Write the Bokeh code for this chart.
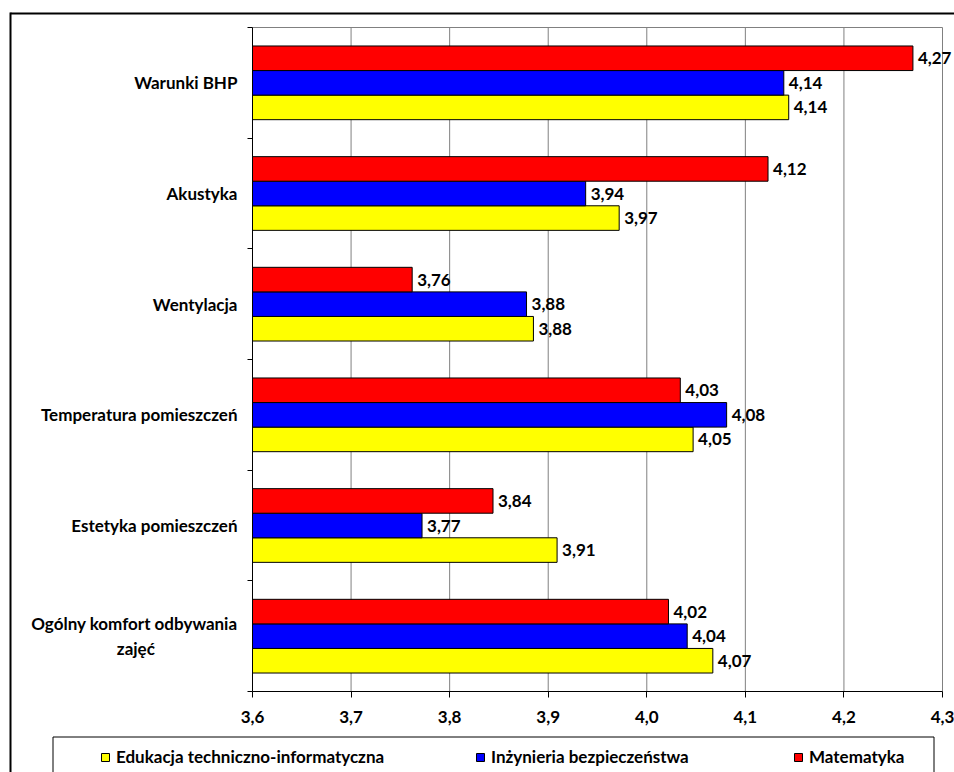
from bokeh.plotting import figure
from bokeh.models import (Range1d, FixedTicker, CustomJSTickFormatter, ColumnDataSource,
                          LabelSet, Legend, LegendItem)
from bokeh.core.properties import value
from bokeh.embed import file_html
from bokeh.resources import INLINE

# ---- data ----
categories = ["Warunki BHP", "Akustyka", "Wentylacja", "Temperatura pomieszczeń",
              "Estetyka pomieszczeń", "Ogólny komfort odbywania\nzajęć" + "\u00a0" * 20]
series_names = ["Edukacja techniczno-informatyczna", "Inżynieria bezpieczeństwa", "Matematyka"]
edukacja = [4.144, 3.972, 3.885, 4.047, 3.909, 4.067]
inzynieria = [4.139, 3.938, 3.878, 4.081, 3.772, 4.041]
matematyka = [4.270, 4.123, 3.762, 4.034, 3.844, 4.022]
xticks = [3.6, 3.7, 3.8, 3.9, 4.0, 4.1, 4.2, 4.3]

# ---- layout (pixels) ----
W, H = 954, 772
PLOT_L, PLOT_R, PLOT_T, PLOT_B = 252, 942, 27, 691
colors = ["#FFFF00", "#0000FF", "#FF0000"]
FONT = "Lato"
BAR_H = 0.222
offsets = [-BAR_H, 0.0, BAR_H]

n = len(categories)
centers = [n - k - 0.5 for k in range(n)]

# the frame spans the whole canvas; the plot area is drawn inside it
px_x = (PLOT_R - PLOT_L) / (xticks[-1] - xticks[0])
px_y = (PLOT_B - PLOT_T) / n
x0 = xticks[0] - PLOT_L / px_x
x1 = xticks[0] + (W - PLOT_L) / px_x
y0 = -(H - PLOT_B) / px_y
y1 = n + PLOT_T / px_y


def to_x(px):
    return x0 + px / px_x


def to_y(py):
    return y1 - py / px_y


p = figure(width=W, height=H, x_range=Range1d(x0, x1), y_range=Range1d(y0, y1),
           output_backend="svg", toolbar_location=None,
           min_border_left=0, min_border_right=0, min_border_top=0, min_border_bottom=0)
p.background_fill_color = "white"
p.border_fill_color = "white"
p.outline_line_color = None
p.xgrid.visible = False
p.ygrid.visible = False

# outer chart frame (left and top edges; the others fall outside the picture)
p.segment(x0=[to_x(10), to_x(10)], x1=[to_x(10), to_x(1000)],
          y0=[to_y(12), to_y(13)], y1=[to_y(900), to_y(13)],
          line_color="black", line_width=2)
# legend frame
p.segment(x0=[to_x(52.5), to_x(52.5), to_x(933.5)], x1=[to_x(933.5), to_x(52.5), to_x(933.5)],
          y0=[to_y(736.5), to_y(736.5), to_y(736.5)], y1=[to_y(736.5), to_y(900), to_y(900)],
          line_color="black", line_width=1)

# grid lines and top edge of the plot area
p.segment(x0=xticks[1:], x1=xticks[1:], y0=[0] * (len(xticks) - 1), y1=[n] * (len(xticks) - 1),
          line_color="#808080", line_width=1)
p.segment(x0=[xticks[0]], x1=[xticks[-1]], y0=[n], y1=[n], line_color="#808080", line_width=1)

renderers = []
for vals, col, off, name in zip([edukacja, inzynieria, matematyka], colors, offsets, series_names):
    src = ColumnDataSource(dict(
        y=[c + off for c in centers],
        right=vals,
        left=[xticks[0]] * n,
        lab=[f"{v:.2f}".replace(".", ",") for v in vals],
    ))
    r = p.hbar(y="y", left="left", right="right", height=BAR_H, source=src,
               fill_color=col, line_color="black", line_width=1)
    renderers.append(r)
    ls = LabelSet(x="right", y="y", text="lab", source=src, x_offset=5,
                  text_baseline="middle", text_align="left",
                  text_font=value(FONT), text_font_style="bold", text_font_size="17px",
                  text_color="black")
    p.add_layout(ls)

# x axis (placed at y = 0)
p.xaxis.fixed_location = 0
p.xaxis.ticker = FixedTicker(ticks=xticks)
p.xaxis.bounds = (xticks[0], xticks[-1])
p.xaxis.formatter = CustomJSTickFormatter(code="return tick.toFixed(1).replace('.', ',');")
p.xaxis.major_tick_out = 6
p.xaxis.major_tick_in = 0
p.xaxis.minor_tick_out = 0
p.xaxis.minor_tick_in = 0
p.xaxis.axis_line_color = "black"
p.xaxis.major_tick_line_color = "black"
p.xaxis.major_label_standoff = 13
p.xaxis.major_label_text_font = FONT
p.xaxis.major_label_text_font_style = "bold"
p.xaxis.major_label_text_font_size = "17px"
p.xaxis.major_label_text_color = "black"

# y axis (placed at x = 3.6): labels at category centres, tick marks at boundaries
p.yaxis.fixed_location = xticks[0]
p.yaxis.bounds = (0, n)
p.yaxis.ticker = FixedTicker(ticks=centers, minor_ticks=list(range(n + 1)))
p.yaxis.major_label_overrides = {c: lab for c, lab in zip(centers, categories)}
p.yaxis.major_tick_out = 0
p.yaxis.major_tick_in = 0
p.yaxis.minor_tick_out = 5
p.yaxis.minor_tick_in = 0
p.yaxis.minor_tick_line_color = "black"
p.yaxis.axis_line_color = "black"
p.yaxis.major_label_standoff = 10
p.yaxis.major_label_text_font = FONT
p.yaxis.major_label_text_font_style = "bold"
p.yaxis.major_label_text_font_size = "17px"
p.yaxis.major_label_text_color = "black"

# legend: one entry per series, each placed like the original
legend_x = [100, 475, 793]
for nm, r, lx in zip(series_names, renderers, legend_x):
    lg = Legend(items=[LegendItem(label=nm, renderers=[r])],
                location=(lx, 5), padding=0, margin=0, label_standoff=6,
                glyph_width=10, glyph_height=10, label_height=10,
                label_text_font=FONT, label_text_font_style="bold", label_text_font_size="17px",
                label_text_color="black",
                border_line_color=None, background_fill_alpha=0)
    p.add_layout(lg, "center")

open("out.html", "w").write(file_html(p, INLINE))
